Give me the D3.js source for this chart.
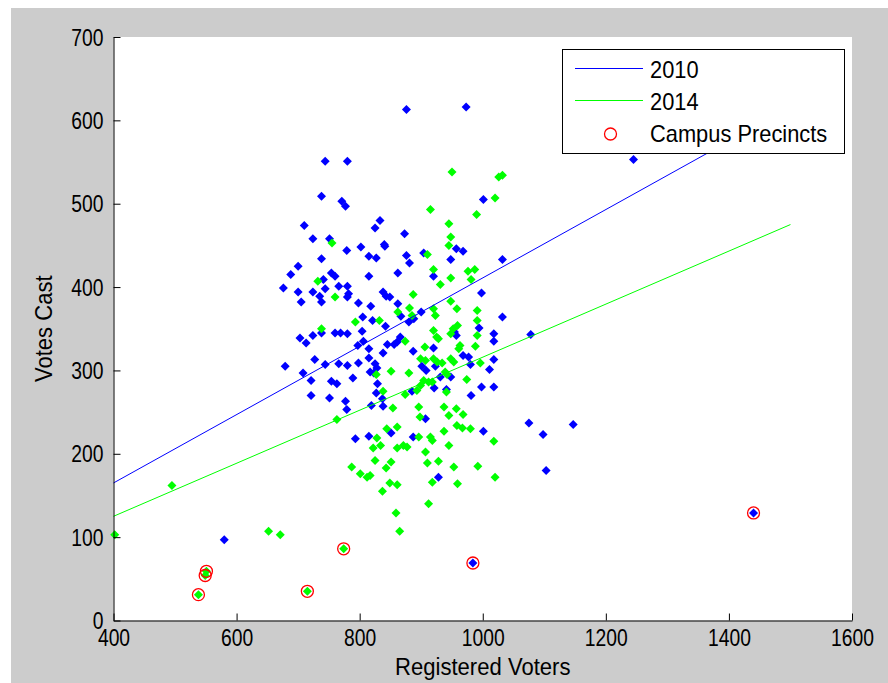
<!DOCTYPE html>
<html>
<head>
<meta charset="utf-8">
<script src="https://cdn.jsdelivr.net/npm/d3@7"></script>
<style>
  body { margin: 0; background: #fff; }
  text { font-family: "Liberation Sans", Arial, sans-serif; fill: #000; }
</style>
</head>
<body>
<div id="chart"></div>
<script>
// 2010 precincts: registered voters / votes cast
var voters2010 = [744,780,738,771,777,710,833,825,724,751,779,802,840,841,815,827,738,700,688,754,760,741,815,862,676,700,724,744,766,780,735,738,782,780,705,798,818,838,843,849,862,805,821,842,703,724,738,760,769,780,804,713,806,845,856,861,797,815,838,727,744,679,766,780,798,815,825,828,817,823,708,721,754,763,789,829,721,751,777,779,827,837,819,838,793,815,851,876,973,1001,873,876,881,904,948,957,968,1032,920,998,867,880,888,900,1032,994,954,957,1018,1018,866,920,887,968,977,980,1018,1011,901,908,923,931,948,921,941,885,981,998,1018,907,1075,1001,887,928,580,1147,1098,1103,1078,1245,984,1440]
var votes2010 = [551,551,509,503,497,474,480,471,458,458,444,448,451,449,437,435,434,425,415,417,413,409,413,417,399,394,394,398,401,401,389,382,392,388,382,381,377,394,389,388,380,364,360,353,339,342,345,345,345,344,347,333,335,331,331,334,330,326,321,313,307,305,308,306,309,315,308,303,298,297,297,288,287,284,291,284,270,267,263,253,273,266,258,257,218,221,225,613,616,505,464,438,429,441,433,446,443,433,413,393,365,358,362,370,364,351,346,342,344,335,340,327,323,318,316,307,313,301,305,300,305,292,292,279,277,275,270,280,280,242,237,227,220,172,97,235,223,180,343,553,69,129]

// 2014 precincts
var voters2014 = [755,732,760,793,832,862,738,851,827,838,854,763,844,861,828,834,822,861,825,843,851,787,801,812,817,849,861,837,859,950,1026,1032,1020,915,990,945,948,945,910,920,948,976,987,981,931,887,948,881,920,958,991,991,923,885,920,925,928,948,959,952,991,874,963,961,988,906,948,953,899,907,920,926,934,996,880,939,942,904,912,918,899,974,941,874,893,896,937,957,945,968,898,958,967,980,937,896,915,918,871,877,945,1018,907,928,910,953,992,918,959,1020,912,865,495,402,652,671,538,551,549,715,774]
var votes2014 = [453,407,388,358,360,370,350,299,295,275,255,241,230,232,219,210,207,207,192,183,190,184,176,172,174,165,163,155,129,538,532,534,507,493,487,476,460,450,439,421,411,419,421,409,403,391,383,375,374,374,372,360,366,366,348,340,338,344,354,350,342,335,330,326,329,328,314,310,314,312,314,310,309,309,297,298,295,288,286,286,282,289,274,271,276,256,256,254,246,247,244,234,231,230,227,220,220,216,210,208,210,215,202,191,189,184,185,166,164,172,140,107,162,103,107,103,31,59,54,35,86]

// campus precincts (circled)
var campusVoters = [538,551,549,715,774,984,1440]
var campusVotes = [31,59,54,35,86,69,129]

// least-squares fit lines, read at both ends
var fitVoters = [400, 1500]
var fit2010 = [165, 616]
var fit2014 = [125, 475]

var xTicks = [400,600,800,1000,1200,1400,1600]
var yTicks = [0,100,200,300,400,500,600,700]

function render(){
  var width = 888, height = 683
  var pLeft = 113.5, pRight = 852, pTop = 37, pBottom = 620.5
  var tickSx = 0.84   // matlab font looks condensed

  var svg = d3.select('#chart').html('').append('svg')
      .attr('width', width).attr('height', height)

  // figure background
  svg.append('rect')
      .attr('x', 11).attr('y', 8)
      .attr('width', width - 11).attr('height', height - 8)
      .attr('fill', '#cccccc')

  svg.append('rect')
      .attr('x', pLeft).attr('y', pTop)
      .attr('width', pRight - pLeft).attr('height', pBottom - pTop)
      .attr('fill', '#ffffff')

  var x = d3.scaleLinear().domain([400, 1600]).range([pLeft, pRight])
  var y = d3.scaleLinear().domain([0, 700]).range([pBottom, pTop])

  function pts(xs, ys){
    return xs.map(function(d, i){ return [d, ys[i]] })
  }

  var diamond = 'M0,-4.5L4.5,0L0,4.5L-4.5,0Z'

  svg.append('g').selectAll('path')
      .data(pts(voters2010, votes2010))
      .enter().append('path')
      .attr('d', diamond)
      .attr('transform', function(d){ return 'translate(' + x(d[0]) + ',' + y(d[1]) + ')' })
      .attr('fill', '#0000ff')

  svg.append('g').selectAll('path')
      .data(pts(voters2014, votes2014))
      .enter().append('path')
      .attr('d', diamond)
      .attr('transform', function(d){ return 'translate(' + x(d[0]) + ',' + y(d[1]) + ')' })
      .attr('fill', '#00ff00')

  var line = d3.line()
      .x(function(d){ return x(d[0]) })
      .y(function(d){ return y(d[1]) })

  svg.append('path')
      .attr('d', line(pts(fitVoters, fit2010)))
      .attr('fill', 'none').attr('stroke', '#0000ff').attr('stroke-width', 1)

  svg.append('path')
      .attr('d', line(pts(fitVoters, fit2014)))
      .attr('fill', 'none').attr('stroke', '#00ff00').attr('stroke-width', 1)

  svg.append('g').selectAll('circle')
      .data(pts(campusVoters, campusVotes))
      .enter().append('circle')
      .attr('cx', function(d){ return x(d[0]) })
      .attr('cy', function(d){ return y(d[1]) })
      .attr('r', 6)
      .attr('fill', 'none')
      .attr('stroke', '#ff0000')
      .attr('stroke-width', 1.3)

  // axes (box off, ticks inside)
  var xAxis = svg.append('g')
      .attr('transform', 'translate(0,' + pBottom + ')')
      .call(d3.axisBottom(x).tickValues(xTicks).tickFormat(d3.format('d'))
        .tickSizeInner(-7).tickSizeOuter(0).tickPadding(0))
  xAxis.select('.domain').attr('stroke', '#000')
  xAxis.selectAll('.tick line').attr('stroke', '#000')
  xAxis.selectAll('.tick text')
      .attr('y', 26).attr('dy', null)
      .attr('transform', 'scale(' + tickSx + ',1)')
      .style('font-size', '23px')

  var yAxis = svg.append('g')
      .attr('transform', 'translate(' + pLeft + ',0)')
      .call(d3.axisLeft(y).tickValues(yTicks).tickFormat(d3.format('d'))
        .tickSizeInner(-7).tickSizeOuter(0).tickPadding(0))
  yAxis.select('.domain').attr('stroke', '#000')
  yAxis.selectAll('.tick line').attr('stroke', '#000')
  yAxis.selectAll('.tick text')
      .attr('x', -10 / tickSx).attr('dy', '0.35em')
      .attr('transform', 'scale(' + tickSx + ',1)')
      .style('font-size', '23px')

  svg.append('text')
      .attr('transform', 'translate(' + ((pLeft + pRight) / 2) + ',675) scale(0.92,1)')
      .attr('text-anchor', 'middle')
      .style('font-size', '24px')
      .text('Registered Voters')

  svg.append('text')
      .attr('transform', 'translate(52,' + ((pTop + pBottom) / 2) + ') rotate(-90) scale(0.92,1)')
      .attr('text-anchor', 'middle')
      .style('font-size', '24px')
      .text('Votes Cast')

  // legend
  var lg = svg.append('g')
  lg.append('rect')
      .attr('x', 562.5).attr('y', 49.5).attr('width', 282).attr('height', 104)
      .attr('fill', '#fff').attr('stroke', '#000')
  lg.append('line').attr('x1', 575).attr('x2', 643).attr('y1', 68.5).attr('y2', 68.5).attr('stroke', '#0000ff')
  lg.append('line').attr('x1', 575).attr('x2', 643).attr('y1', 100.5).attr('y2', 100.5).attr('stroke', '#00ff00')
  lg.append('circle').attr('cx', 610.5).attr('cy', 134).attr('r', 6)
      .attr('fill', 'none').attr('stroke', '#ff0000').attr('stroke-width', 1.3)
  var labels = ['2010', '2014', 'Campus Precincts']
  lg.selectAll('text.lab').data(labels).enter().append('text')
      .attr('class', 'lab')
      .attr('transform', function(d, i){ return 'translate(650,' + (78 + i * 32) + ') scale(0.95,1)' })
      .style('font-size', '23px')
      .text(function(d){ return d })
}
render()
</script>
</body>
</html>
